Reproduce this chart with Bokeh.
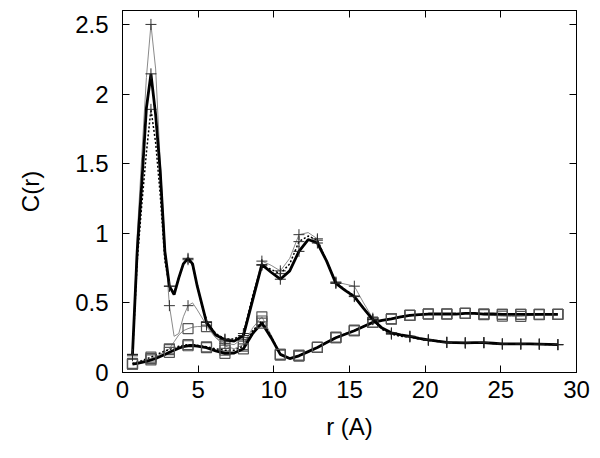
from bokeh.plotting import figure
from bokeh.models import LinearAxis, Range1d, FixedTicker, NumeralTickFormatter, ColumnDataSource
from bokeh.embed import file_html
from bokeh.resources import INLINE

# sampling radii (A)
r = [0.66, 0.97, 1.27, 1.58, 1.88, 2.19, 2.49, 2.80, 3.10, 3.41, 3.72, 4.02, 4.33, 4.63, 4.94,
     5.55, 6.16, 6.77, 7.38, 7.99, 8.60, 9.21, 9.82, 10.43, 11.05, 11.66, 12.27, 12.88, 13.49, 14.10,
     14.71, 15.32, 15.93, 16.54, 17.15, 17.77, 18.38, 18.99, 19.60, 20.21, 20.82, 21.43, 22.04, 22.65,
     23.27, 23.88, 24.49, 25.10, 25.71, 26.32, 26.93, 27.54, 28.15, 28.77]

# "+" family
plus_thin = [0.13, 0.98, 1.55, 2.12, 2.50, 2.18, 1.52, 0.92, 0.48, 0.26, 0.28, 0.40, 0.48, 0.50, 0.45,
             0.34, 0.25, 0.21, 0.20, 0.25, 0.55, 0.80, 0.77, 0.73, 0.82, 0.99, 1.005, 0.96, 0.80, 0.65,
             0.635, 0.62, 0.50, 0.39, 0.32, 0.28, 0.27, 0.26, 0.245, 0.235, 0.225, 0.217, 0.215, 0.213,
             0.214, 0.215, 0.21, 0.205, 0.205, 0.205, 0.205, 0.204, 0.202, 0.20]
plus_thick = [0.13, 0.87, 1.35, 1.90, 2.145, 1.85, 1.45, 0.87, 0.62, 0.56, 0.68, 0.78, 0.82, 0.78, 0.62,
              0.36, 0.27, 0.235, 0.225, 0.265, 0.52, 0.775, 0.72, 0.67, 0.73, 0.87, 0.955, 0.93, 0.80, 0.64,
              0.59, 0.545, 0.46, 0.38, 0.32, 0.285, 0.27, 0.26, 0.245, 0.235, 0.225, 0.217, 0.215, 0.213,
              0.214, 0.215, 0.21, 0.205, 0.205, 0.205, 0.205, 0.204, 0.202, 0.20]
plus_dash = [0.12, 0.80, 1.20, 1.58, 1.89, 1.65, 1.28, 0.80, 0.62, 0.57, 0.68, 0.78, 0.81, 0.77, 0.62,
             0.36, 0.28, 0.24, 0.24, 0.28, 0.55, 0.77, 0.74, 0.71, 0.78, 0.94, 0.98, 0.95, 0.80, 0.645,
             0.595, 0.55, 0.46, 0.38, 0.31, 0.275, 0.26, 0.255, 0.24, 0.23, 0.222, 0.215, 0.213, 0.212,
             0.213, 0.213, 0.208, 0.205, 0.204, 0.204, 0.204, 0.203, 0.201, 0.20]

# square family
sq_thin = [0.06, 0.07, 0.08, 0.09, 0.10, 0.115, 0.13, 0.15, 0.17, 0.22, 0.27, 0.30, 0.315, 0.325, 0.33,
           0.33, 0.25, 0.19, 0.17, 0.20, 0.32, 0.40, 0.27, 0.125, 0.10, 0.125, 0.15, 0.18, 0.22, 0.255,
           0.28, 0.305, 0.335, 0.36, 0.375, 0.385, 0.40, 0.41, 0.415, 0.42, 0.42, 0.42, 0.422, 0.425,
           0.42, 0.415, 0.41, 0.405, 0.403, 0.403, 0.41, 0.415, 0.418, 0.418]
sq_thick = [0.06, 0.065, 0.072, 0.08, 0.09, 0.10, 0.115, 0.13, 0.145, 0.16, 0.175, 0.185, 0.192, 0.194, 0.19,
            0.178, 0.155, 0.138, 0.14, 0.17, 0.28, 0.355, 0.25, 0.13, 0.10, 0.12, 0.15, 0.18, 0.215, 0.25,
            0.275, 0.30, 0.33, 0.36, 0.375, 0.385, 0.40, 0.41, 0.415, 0.42, 0.42, 0.42, 0.42, 0.425,
            0.425, 0.42, 0.42, 0.418, 0.418, 0.418, 0.418, 0.418, 0.418, 0.418]
sq_dash = [0.065, 0.075, 0.085, 0.098, 0.11, 0.125, 0.14, 0.155, 0.165, 0.178, 0.188, 0.195, 0.20, 0.20, 0.195,
           0.185, 0.17, 0.16, 0.16, 0.19, 0.30, 0.37, 0.26, 0.13, 0.10, 0.12, 0.15, 0.18, 0.215, 0.25,
           0.275, 0.30, 0.33, 0.36, 0.375, 0.385, 0.40, 0.41, 0.415, 0.42, 0.42, 0.42, 0.42, 0.425,
           0.425, 0.42, 0.42, 0.418, 0.418, 0.418, 0.418, 0.418, 0.418, 0.418]

x_ticks = [0, 5, 10, 15, 20, 25, 30]
y_ticks = [0, 0.5, 1, 1.5, 2, 2.5]

mark_idx = [0, 4, 8, 12] + list(range(15, len(r), 2))

FONT = "Liberation Sans"

p = figure(width=592, height=450,
           x_range=Range1d(0, 30), y_range=Range1d(0, 2.6),
           output_backend="svg", toolbar_location=None,
           min_border_left=122, min_border_right=16, min_border_top=10, min_border_bottom=78,
           x_axis_label="r (A)", y_axis_label="C(r)")
p.grid.visible = False
p.outline_line_color = "black"
p.outline_line_width = 1
p.background_fill_color = "white"
p.border_fill_color = "white"

for ax, ticks in ((p.xaxis[0], x_ticks), (p.yaxis[0], y_ticks)):
    ax.ticker = FixedTicker(ticks=ticks)
    ax.formatter = NumeralTickFormatter(format="0.[0]")
    ax.major_tick_in = 7
    ax.major_tick_out = 0
    ax.minor_tick_line_color = None
    ax.axis_line_color = "black"
    ax.major_label_text_font = FONT
    ax.major_label_text_font_size = "24px"
    ax.major_label_text_color = "black"
    ax.axis_label_text_font = FONT
    ax.axis_label_text_font_size = "24px"
    ax.axis_label_text_font_style = "normal"
    ax.axis_label_text_color = "black"
p.xaxis[0].major_label_standoff = 8
p.xaxis[0].axis_label_standoff = 12
p.yaxis[0].major_label_standoff = 14
p.yaxis[0].axis_label_standoff = 28

top = LinearAxis(ticker=FixedTicker(ticks=x_ticks), major_tick_in=7, major_tick_out=0,
                 minor_tick_line_color=None, major_label_text_color=None,
                 major_label_text_font_size="0px", major_label_standoff=0,
                 axis_line_color="black", major_tick_line_color="black")
right = LinearAxis(ticker=FixedTicker(ticks=y_ticks), major_tick_in=7, major_tick_out=0,
                   minor_tick_line_color=None, major_label_text_color=None,
                   major_label_text_font_size="0px", major_label_standoff=0,
                   axis_line_color="black", major_tick_line_color="black")
p.add_layout(top, "above")
p.add_layout(right, "right")

GRAY = "#8a8a8a"

def draw(vals, color, width, dash, marker, mcolor):
    src = ColumnDataSource(dict(x=r, y=vals))
    p.line("x", "y", source=src, line_color=color, line_width=width, line_dash=dash)
    msrc = ColumnDataSource(dict(x=[r[i] for i in mark_idx], y=[vals[i] for i in mark_idx]))
    if marker == "cross":
        p.scatter("x", "y", source=msrc, marker="cross", size=11, line_color=mcolor, line_width=1)
    else:
        p.scatter("x", "y", source=msrc, marker="square", size=10, fill_color=None,
                  line_color=mcolor, line_width=1.2)

draw(sq_thin, GRAY, 1, "solid", "square", "#555555")
draw(sq_dash, "black", 1.5, "2 2", "square", "#555555")
draw(sq_thick, "black", 2.8, "solid", "square", "#555555")
draw(plus_thin, GRAY, 1, "solid", "cross", "#333333")
draw(plus_dash, "black", 1.5, "2 2", "cross", "#333333")
draw(plus_thick, "black", 2.8, "solid", "cross", "#222222")

open("out.html", "w").write(file_html(p, INLINE))
